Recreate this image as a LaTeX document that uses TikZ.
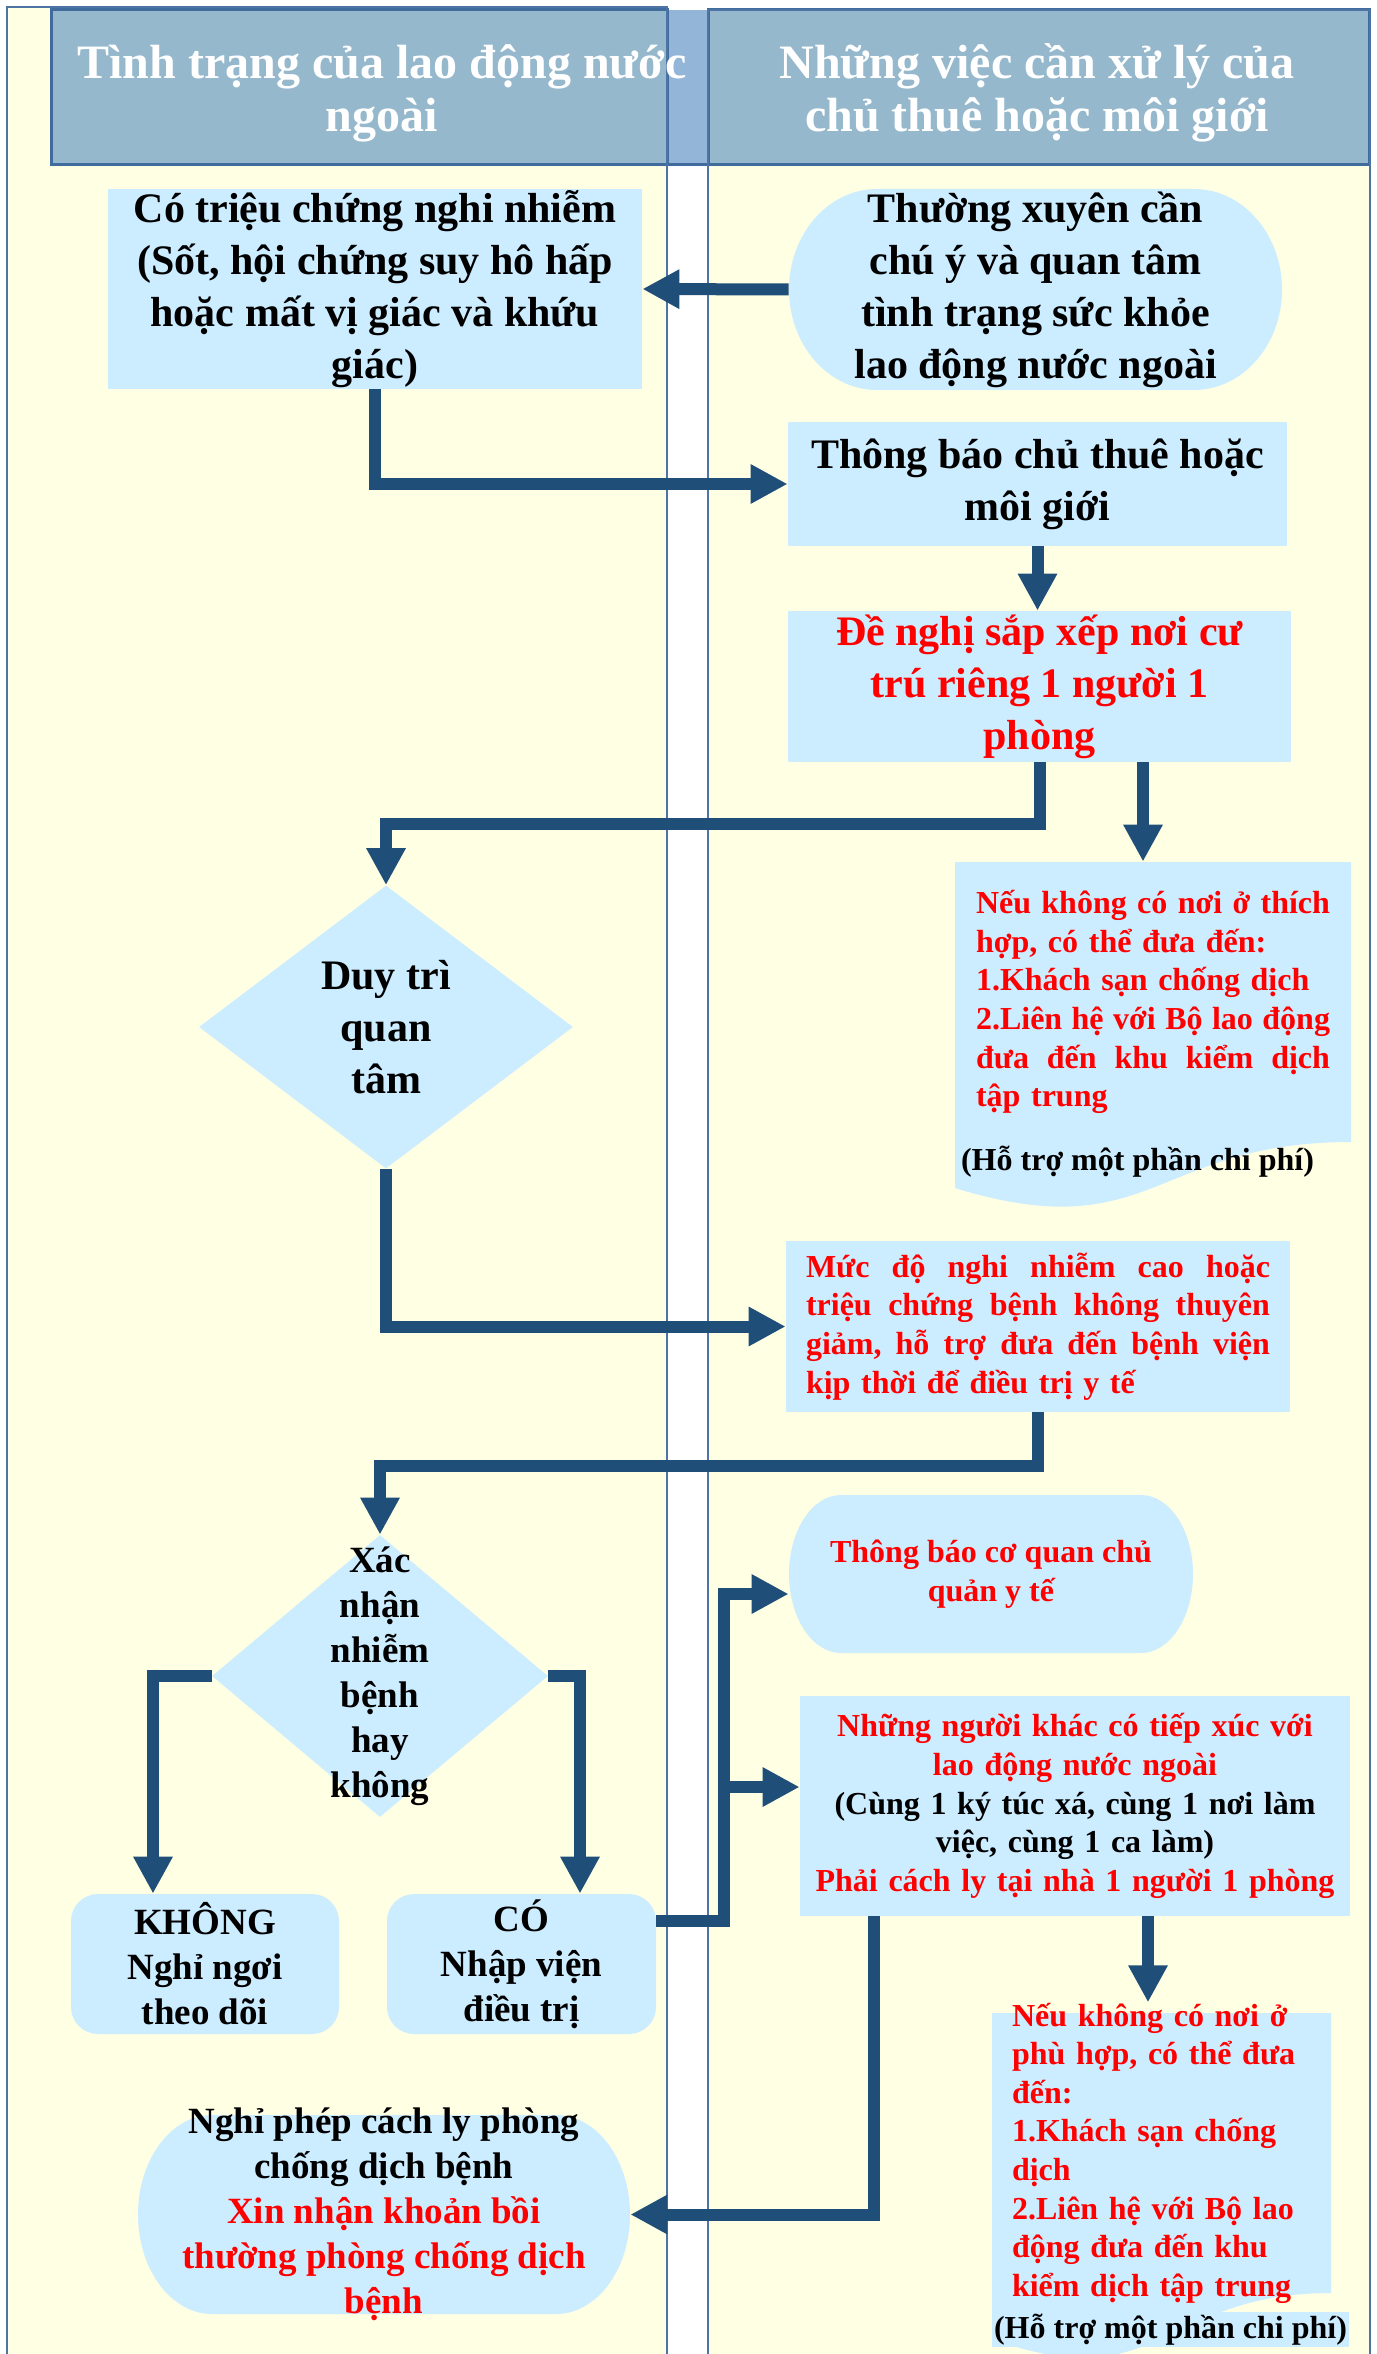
\documentclass[tikz,border=0pt]{standalone}
\usepackage{fontspec}
\setmainfont{Liberation Serif}
\usepackage{tikz}
\usetikzlibrary{calc,positioning,arrows.meta,shapes.geometric}
\pgfdeclarelayer{background}
\pgfsetlayers{background,main}

\definecolor{lanefill}{HTML}{FFFFE4}
\definecolor{laneline}{HTML}{4E74A6}
\definecolor{hdrfill}{HTML}{95B8CC}
\definecolor{hdrline}{HTML}{3F6C9C}
\definecolor{stripfill}{HTML}{93B6D8}
\definecolor{boxblue}{HTML}{CCECFF}
\definecolor{arrowblue}{HTML}{1F4E79}
\definecolor{alertred}{HTML}{FF0000}

\newcommand\hdrtxt{\fontsize{24}{26.5}\selectfont\bfseries}
\newcommand\bigtxt{\fontsize{21}{26}\selectfont\bfseries}
\newcommand\midtxt{\fontsize{18.5}{22.5}\selectfont\bfseries}
\newcommand\smalltxt{\fontsize{16}{19.3}\selectfont\bfseries}
\newcommand\redtxt[1]{\textcolor{alertred}{#1}}
% a justified line: words spread over the given width
\newcommand\fullline[2]{\leavevmode\hbox to #1{#2}}

% fill behind a node: straight top and bottom, half-ellipse ends
\newcommand\capsulefill[4]{%
  \begin{pgfonlayer}{background}
    \fill [boxblue] let \p0=(#1.center) in
      (\x0-#2+#4,\y0+#3) -- (\x0+#2-#4,\y0+#3)
      arc [start angle=90, end angle=-90, x radius=#4, y radius=#3]
      -- (\x0-#2+#4,\y0-#3)
      arc [start angle=270, end angle=90, x radius=#4, y radius=#3] -- cycle;
  \end{pgfonlayer}}

% fill behind a node: document shape with a wavy bottom
\newcommand\docfill[3]{%
  \begin{pgfonlayer}{background}
    \fill [boxblue] let \p0=(#1.center), \n1={2*#3/0.802} in
      (\x0-#2,\y0+#3) -- (\x0+#2,\y0+#3) -- (\x0+#2,\y0-#3)
      .. controls (\x0,\y0-#3) and (\x0,\y0+#3-1.107*\n1) ..
      (\x0-#2,\y0+#3-0.934*\n1) -- cycle;
  \end{pgfonlayer}}

\tikzset{
    header/.style={text=white, font=\hdrtxt, align=center},
    box/.style={
        rectangle,
        fill=boxblue,
        inner sep=0pt,
        align=center,
        font=\bigtxt
    },
    softbox/.style={
        rectangle,
        inner sep=0pt,
        align=center,
        font=\bigtxt
    },
    roundbox/.style={box, rounded corners=13.5pt, font=\midtxt},
    docbox/.style={
        rectangle,
        inner ysep=0pt,
        align=left,
        text=alertred,
        font=\smalltxt
    },
    decision/.style={diamond, fill=boxblue, inner sep=0pt},
    dlabel/.style={align=center, inner sep=0pt},
    alert/.style={text=alertred},
    flow/.style={->, draw=arrowblue, line width=6pt},
}

\begin{document}
\begin{tikzpicture}[x=0.5pt, y=-0.5pt, >={Triangle[length=18.5pt, width=18.5pt]}]

\useasboundingbox (0,0) rectangle (1376,2354);

\begin{pgfonlayer}{background}
\fill [white] (0,0) rectangle (1376,2354);
\foreach \lx/\rx/\ty in {7/667/7, 708/1370/10}
  \fill [lanefill] (\lx,\ty) rectangle (\rx,2354);
\fill [hdrfill] (51,10) rectangle (667,165);
\fill [stripfill] (667,10) rectangle (708,165);
\fill [hdrfill] (708,10) rectangle (1369,165);
\draw [hdrline, line width=1.5pt] (51,10) rectangle (667,165);
\draw [hdrline, line width=1.5pt] (708,10) rectangle (1369,165);
\draw [hdrline, line width=1.5pt] (667,165) -- (708,165);
\foreach \lx/\rx/\ty in {7/667/7, 708/1370/10}
  \draw [laneline, line width=1pt] (\lx,2354) -- (\lx,\ty) -- (\rx,\ty) -- (\rx,2354);
\end{pgfonlayer}

\node [header] (head-left) at (382,93) {Tình trạng của lao động nước\\ngoài};
\node [header] (head-right) at (1037,93) {Những việc cần xử lý của\\chủ thuê hoặc môi giới};

\node [box, minimum width=267pt, minimum height=100pt] (symptom) at (375,289)
  {Có triệu chứng nghi nhiễm\\(Sốt, hội chứng suy hô hấp\\hoặc mất vị giác và khứu\\giác)};
\node [softbox, minimum width=246.5pt, minimum height=100.5pt] (care) at (1035.5,289.5)
  {Thường xuyên cần\\chú ý và quan tâm\\tình trạng sức khỏe\\lao động nước ngoài};
\node [box, minimum width=249.5pt, minimum height=62pt] (notify) at (1037.5,484)
  {Thông báo chủ thuê hoặc\\môi giới};
\node [box, alert, minimum width=251.5pt, minimum height=75.5pt] (room) at (1039.5,686.5)
  {Đề nghị sắp xếp nơi cư\\trú riêng 1 người 1\\phòng};
\node [docbox, text width=177pt, inner xsep=10.5pt, minimum height=140pt] (hotel-1) at (1153,1002)
  {\fullline{177pt}{Nếu\hfill không\hfill có\hfill nơi\hfill ở\hfill thích}\\
   hợp, có thể đưa đến:\\
   1.Khách sạn chống dịch\\
   \fullline{177pt}{2.Liên\hfill hệ\hfill với\hfill Bộ\hfill lao\hfill động}\\
   \fullline{177pt}{đưa\hfill đến\hfill khu\hfill kiểm\hfill dịch}\\
   tập trung};
\node [font=\smalltxt] (note-1) at (1137.5,1162) {(Hỗ trợ một phần chi phí)};

\node [decision, minimum width=187pt, minimum height=141.5pt,
  label={[dlabel, font=\bigtxt]center:{Duy trì\\quan\\tâm}}] (keep) at (386,1027) {};
\node [box, alert, font=\smalltxt, text width=232pt, inner xsep=10pt, align=left,
  minimum height=85.5pt] (severe) at (1038,1326.5)
  {\fullline{232pt}{Mức\hfill độ\hfill nghi\hfill nhiễm\hfill cao\hfill hoặc}\\
   \fullline{232pt}{triệu\hfill chứng\hfill bệnh\hfill không\hfill thuyên}\\
   \fullline{232pt}{giảm,\hfill hỗ\hfill trợ\hfill đưa\hfill đến\hfill bệnh\hfill viện}\\
   kịp thời để điều trị y tế};

\node [decision, minimum width=168pt, minimum height=141pt,
  label={[dlabel, font=\midtxt]center:{Xác\\nhận\\nhiễm\\bệnh\\hay\\không}}] (confirm) at (380,1676) {};
\node [roundbox, minimum width=134pt, minimum height=70pt] (no) at (205,1964)
  {KHÔNG\\Nghỉ ngơi\\theo dõi};
\node [roundbox, minimum width=134.5pt, minimum height=70pt] (yes) at (521.5,1964)
  {CÓ\\Nhập viện\\điều trị};

\node [softbox, alert, font=\smalltxt, minimum width=202pt, minimum height=79pt] (health) at (991,1574)
  {Thông báo cơ quan chủ\\quản y tế};
\node [box, font=\smalltxt, text width=265pt, minimum width=275pt, minimum height=110pt] (contact) at (1075,1806)
  {\redtxt{Những người khác có tiếp xúc với}\\
   \redtxt{lao động nước ngoài}\\
   (Cùng 1 ký túc xá, cùng 1 nơi làm\\
   việc, cùng 1 ca làm)\\
   \redtxt{Phải cách ly tại nhà 1 người 1 phòng}};
\node [docbox, text width=149.5pt, inner xsep=10pt, minimum height=140pt] (hotel-2) at (1161.5,2153)
  {Nếu không có nơi ở\\phù hợp, có thể đưa\\đến:\\1.Khách sạn chống\\dịch\\2.Liên hệ với Bộ lao\\động đưa đến khu\\kiểm dịch tập trung};
\node [box, font=\smalltxt, minimum width=178.5pt, minimum height=17.5pt] (note-2) at (1170.5,2329.5)
  {(Hỗ trợ một phần chi phí)};
\node [softbox, font=\midtxt, minimum width=246pt, minimum height=99.5pt] (leave) at (384,2214.5)
  {Nghỉ phép cách ly phòng\\chống dịch bệnh\\\redtxt{Xin nhận khoản bồi}\\\redtxt{thường phòng chống dịch}\\\redtxt{bệnh}};

\capsulefill{care}{123.25pt}{50.25pt}{44pt}
\capsulefill{health}{101pt}{39.5pt}{26pt}
\capsulefill{leave}{123pt}{49.75pt}{37pt}
\docfill{hotel-1}{99pt}{70pt}
\docfill{hotel-2}{84.75pt}{70pt}

\draw [flow] (care.west) -- (symptom.east);
\draw [flow] (symptom.south) |- (notify.west);
\draw [flow] (notify.south) -- (notify.south |- room.north);
\draw [flow] (room.south) -- ++(0,62) -| (keep.north);
\coordinate (hotel-1-in) at ([xshift=-5pt]hotel-1.north);
\draw [flow] (room.south -| hotel-1-in) -- (hotel-1-in);
\draw [flow] (keep.south) |- (severe.west);
\draw [flow] (severe.south) -- ++(0,54) -| (confirm.north);
\draw [flow] (confirm.west) -| ([xshift=-26pt]no.north);
\draw [flow] (confirm.east) -| ([xshift=29.25pt]yes.north);

\coordinate (yes-out) at ([yshift=21.5pt]yes.east);
\coordinate (fork) at ([xshift=34pt]yes-out);
\coordinate (contact-in) at ([yshift=9.5pt]contact.west);
\draw [flow] (yes-out) -- (fork) |- ([yshift=-10pt]health.west);
\draw [flow] (fork |- contact-in) -- (contact-in);

\draw [flow] ([xshift=-100.5pt]contact.south) |- (leave.east);
\coordinate (hotel-2-in) at ([xshift=-6.75pt]hotel-2.north);
\draw [flow] (contact.south -| hotel-2-in) -- (hotel-2-in);

\end{tikzpicture}
\end{document}
